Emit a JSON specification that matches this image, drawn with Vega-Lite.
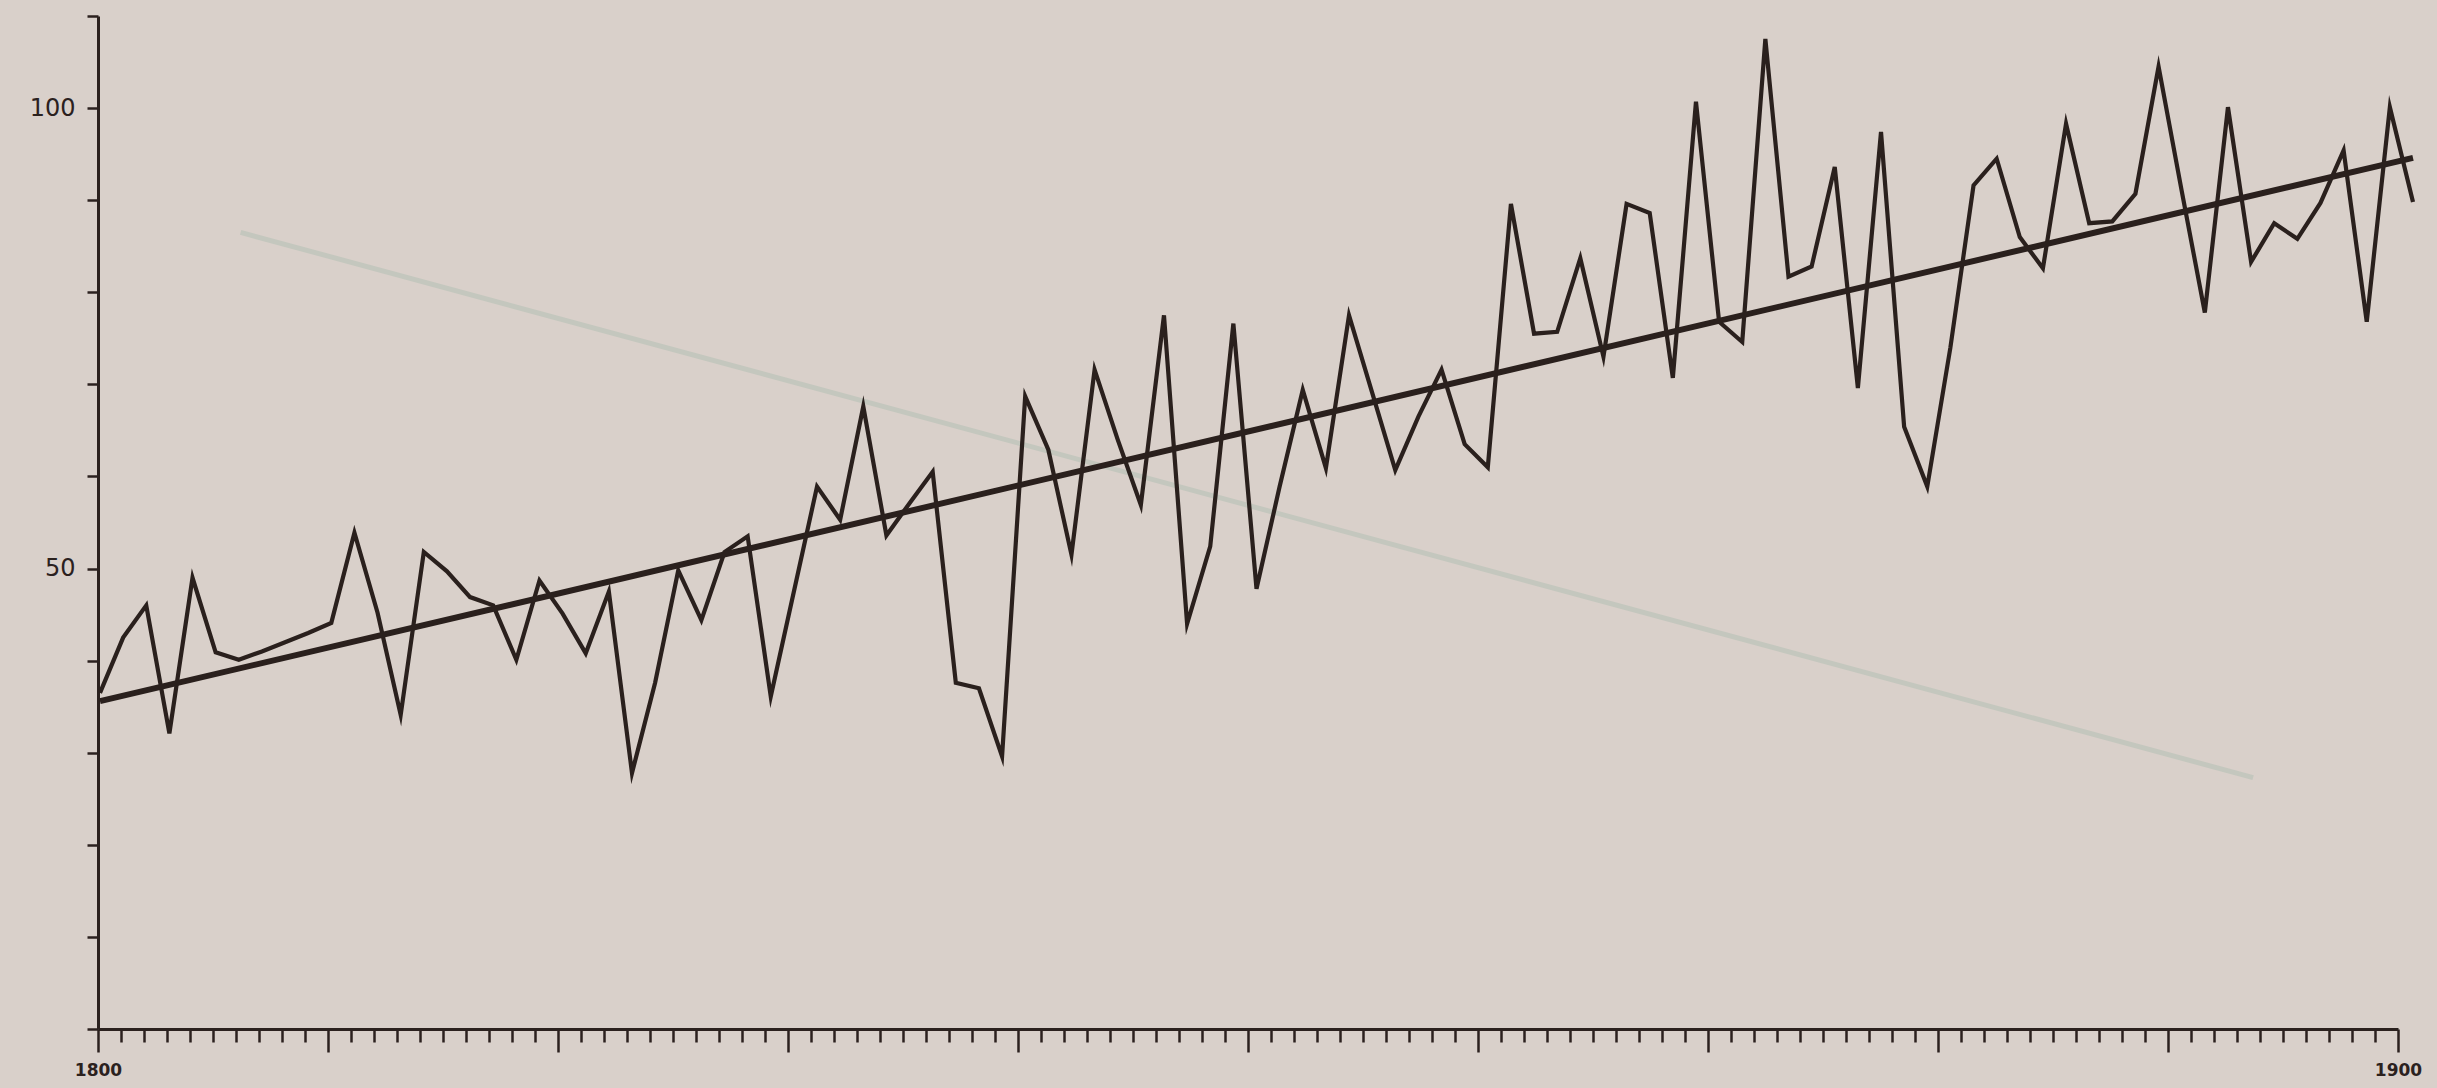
{
  "$schema": "https://vega.github.io/schema/vega-lite/v6.json",
  "width": 2300,
  "height": 1013,
  "autosize": {"type": "none"},
  "padding": {"left": 98, "top": 16, "right": 39, "bottom": 59},
  "background": "#d9d0ca",
  "config": {"view": {"stroke": null}},
  "datasets": {
    "series": [
      {"year": 1800, "v": 36.5}, {"year": 1801, "v": 42.5}, {"year": 1802, "v": 46.0}, {"year": 1803, "v": 32.1},
      {"year": 1804, "v": 49.0}, {"year": 1805, "v": 40.9}, {"year": 1806, "v": 40.1}, {"year": 1807, "v": 41.0},
      {"year": 1808, "v": 42.0}, {"year": 1809, "v": 43.0}, {"year": 1810, "v": 44.1}, {"year": 1811, "v": 53.9},
      {"year": 1812, "v": 45.2}, {"year": 1813, "v": 34.1}, {"year": 1814, "v": 51.8}, {"year": 1815, "v": 49.7},
      {"year": 1816, "v": 46.9}, {"year": 1817, "v": 46.0}, {"year": 1818, "v": 40.1}, {"year": 1819, "v": 48.7},
      {"year": 1820, "v": 45.1}, {"year": 1821, "v": 40.8}, {"year": 1822, "v": 47.5}, {"year": 1823, "v": 27.8},
      {"year": 1824, "v": 37.6}, {"year": 1825, "v": 49.8}, {"year": 1826, "v": 44.4}, {"year": 1827, "v": 51.8},
      {"year": 1828, "v": 53.5}, {"year": 1829, "v": 36.1}, {"year": 1830, "v": 47.5}, {"year": 1831, "v": 58.9},
      {"year": 1832, "v": 55.3}, {"year": 1833, "v": 67.6}, {"year": 1834, "v": 53.6}, {"year": 1835, "v": 57.1},
      {"year": 1836, "v": 60.5}, {"year": 1837, "v": 37.6}, {"year": 1838, "v": 37.0}, {"year": 1839, "v": 29.6},
      {"year": 1840, "v": 68.7}, {"year": 1841, "v": 62.9}, {"year": 1842, "v": 51.5}, {"year": 1843, "v": 71.6},
      {"year": 1844, "v": 64.0}, {"year": 1845, "v": 56.9}, {"year": 1846, "v": 77.5}, {"year": 1847, "v": 44.0},
      {"year": 1848, "v": 52.4}, {"year": 1849, "v": 76.6}, {"year": 1850, "v": 47.8}, {"year": 1851, "v": 58.9},
      {"year": 1852, "v": 69.4}, {"year": 1853, "v": 60.9}, {"year": 1854, "v": 77.5}, {"year": 1855, "v": 69.1},
      {"year": 1856, "v": 60.7}, {"year": 1857, "v": 66.5}, {"year": 1858, "v": 71.6}, {"year": 1859, "v": 63.5},
      {"year": 1860, "v": 61.0}, {"year": 1861, "v": 89.6}, {"year": 1862, "v": 75.5}, {"year": 1863, "v": 75.7},
      {"year": 1864, "v": 83.7}, {"year": 1865, "v": 73.0}, {"year": 1866, "v": 89.6}, {"year": 1867, "v": 88.6},
      {"year": 1868, "v": 70.7}, {"year": 1869, "v": 100.7}, {"year": 1870, "v": 76.8}, {"year": 1871, "v": 74.6},
      {"year": 1872, "v": 107.5}, {"year": 1873, "v": 81.7}, {"year": 1874, "v": 82.8}, {"year": 1875, "v": 93.6},
      {"year": 1876, "v": 69.6}, {"year": 1877, "v": 97.4}, {"year": 1878, "v": 65.4}, {"year": 1879, "v": 58.9},
      {"year": 1880, "v": 74.0}, {"year": 1881, "v": 91.6}, {"year": 1882, "v": 94.5}, {"year": 1883, "v": 86.0},
      {"year": 1884, "v": 82.6}, {"year": 1885, "v": 98.3}, {"year": 1886, "v": 87.5}, {"year": 1887, "v": 87.7},
      {"year": 1888, "v": 90.7}, {"year": 1889, "v": 104.5}, {"year": 1890, "v": 91.0}, {"year": 1891, "v": 77.8},
      {"year": 1892, "v": 100.1}, {"year": 1893, "v": 83.3}, {"year": 1894, "v": 87.5}, {"year": 1895, "v": 85.8},
      {"year": 1896, "v": 89.7}, {"year": 1897, "v": 95.4}, {"year": 1898, "v": 76.8}, {"year": 1899, "v": 100.1},
      {"year": 1900, "v": 89.8}
    ],
    "trend": [
      {"year": 1800, "v": 35.6},
      {"year": 1900, "v": 94.6}
    ],
    "backTrend": [
      {"year": 1806.2, "v": 86.5},
      {"year": 1893.7, "v": 27.3}
    ],
    "ticks": [
      {"year": 1800, "v": 0}, {"year": 1900, "v": 0}
    ]
  },
  "resolve": {"scale": {"x": "independent"}},
  "layer": [
    {
      "data": {"name": "backTrend"},
      "mark": {"type": "line", "color": "#c4c7be", "strokeWidth": 5},
      "encoding": {
        "x": {"field": "year", "type": "quantitative", "scale": {"domain": [1800, 1900], "range": [0, 2300], "nice": false, "zero": false}, "axis": null},
        "y": {"field": "v", "type": "quantitative", "scale": {"domain": [0, 110], "nice": false}}
      }
    },
    {
      "data": {"name": "ticks"},
      "mark": {"type": "point", "opacity": 0},
      "encoding": {
        "x": {
          "field": "year",
          "type": "quantitative",
          "scale": {"domain": [1800, 1900], "range": [0, 2300], "nice": false, "zero": false},
          "axis": {
            "title": null,
            "grid": false,
            "values": [1800,1801,1802,1803,1804,1805,1806,1807,1808,1809,1810,1811,1812,1813,1814,1815,1816,1817,1818,1819,1820,1821,1822,1823,1824,1825,1826,1827,1828,1829,1830,1831,1832,1833,1834,1835,1836,1837,1838,1839,1840,1841,1842,1843,1844,1845,1846,1847,1848,1849,1850,1851,1852,1853,1854,1855,1856,1857,1858,1859,1860,1861,1862,1863,1864,1865,1866,1867,1868,1869,1870,1871,1872,1873,1874,1875,1876,1877,1878,1879,1880,1881,1882,1883,1884,1885,1886,1887,1888,1889,1890,1891,1892,1893,1894,1895,1896,1897,1898,1899,1900],
            "format": "d",
            "labelExpr": "datum.value == 1800 || datum.value == 1900 ? datum.label : ''",
            "tickSize": {"condition": {"test": "datum.value % 10 === 0", "value": 23}, "value": 13},
            "tickWidth": 2.5,
            "tickColor": "#2b211e",
            "domainColor": "#2b211e",
            "domainWidth": 3,
            "labelFont": "DejaVu Sans",
            "labelFontWeight": "bold",
            "labelFontSize": 17,
            "labelColor": "#2b211e",
            "labelPadding": 10,
            "labelOverlap": false,
            "labelFlush": false
          }
        },
        "y": {
          "field": "v",
          "type": "quantitative",
          "axis": {
            "title": null,
            "grid": false,
            "values": [0, 10, 20, 30, 40, 50, 60, 70, 80, 90, 100, 110],
            "labelExpr": "datum.value == 50 || datum.value == 100 ? datum.label : ''",
            "tickSize": 11,
            "tickWidth": 2.5,
            "tickColor": "#2b211e",
            "domainColor": "#2b211e",
            "domainWidth": 3,
            "labelFont": "DejaVu Sans",
            "labelFontSize": 24,
            "labelColor": "#2b211e",
            "labelPadding": 12,
            "labelOverlap": false,
            "labelFlush": false
          }
        }
      }
    },
    {
      "data": {"name": "series"},
      "mark": {"type": "line", "color": "#2a201d", "strokeWidth": 4.2, "strokeJoin": "miter", "strokeMiterLimit": 6},
      "encoding": {
        "x": {"field": "year", "type": "quantitative", "scale": {"domain": [1800, 1900], "range": [2, 2315], "nice": false, "zero": false}, "axis": null},
        "y": {"field": "v", "type": "quantitative"}
      }
    },
    {
      "data": {"name": "trend"},
      "mark": {"type": "line", "color": "#2a201d", "strokeWidth": 6},
      "encoding": {
        "x": {"field": "year", "type": "quantitative", "scale": {"domain": [1800, 1900], "range": [2, 2315], "nice": false, "zero": false}, "axis": null},
        "y": {"field": "v", "type": "quantitative"}
      }
    }
  ]
}
